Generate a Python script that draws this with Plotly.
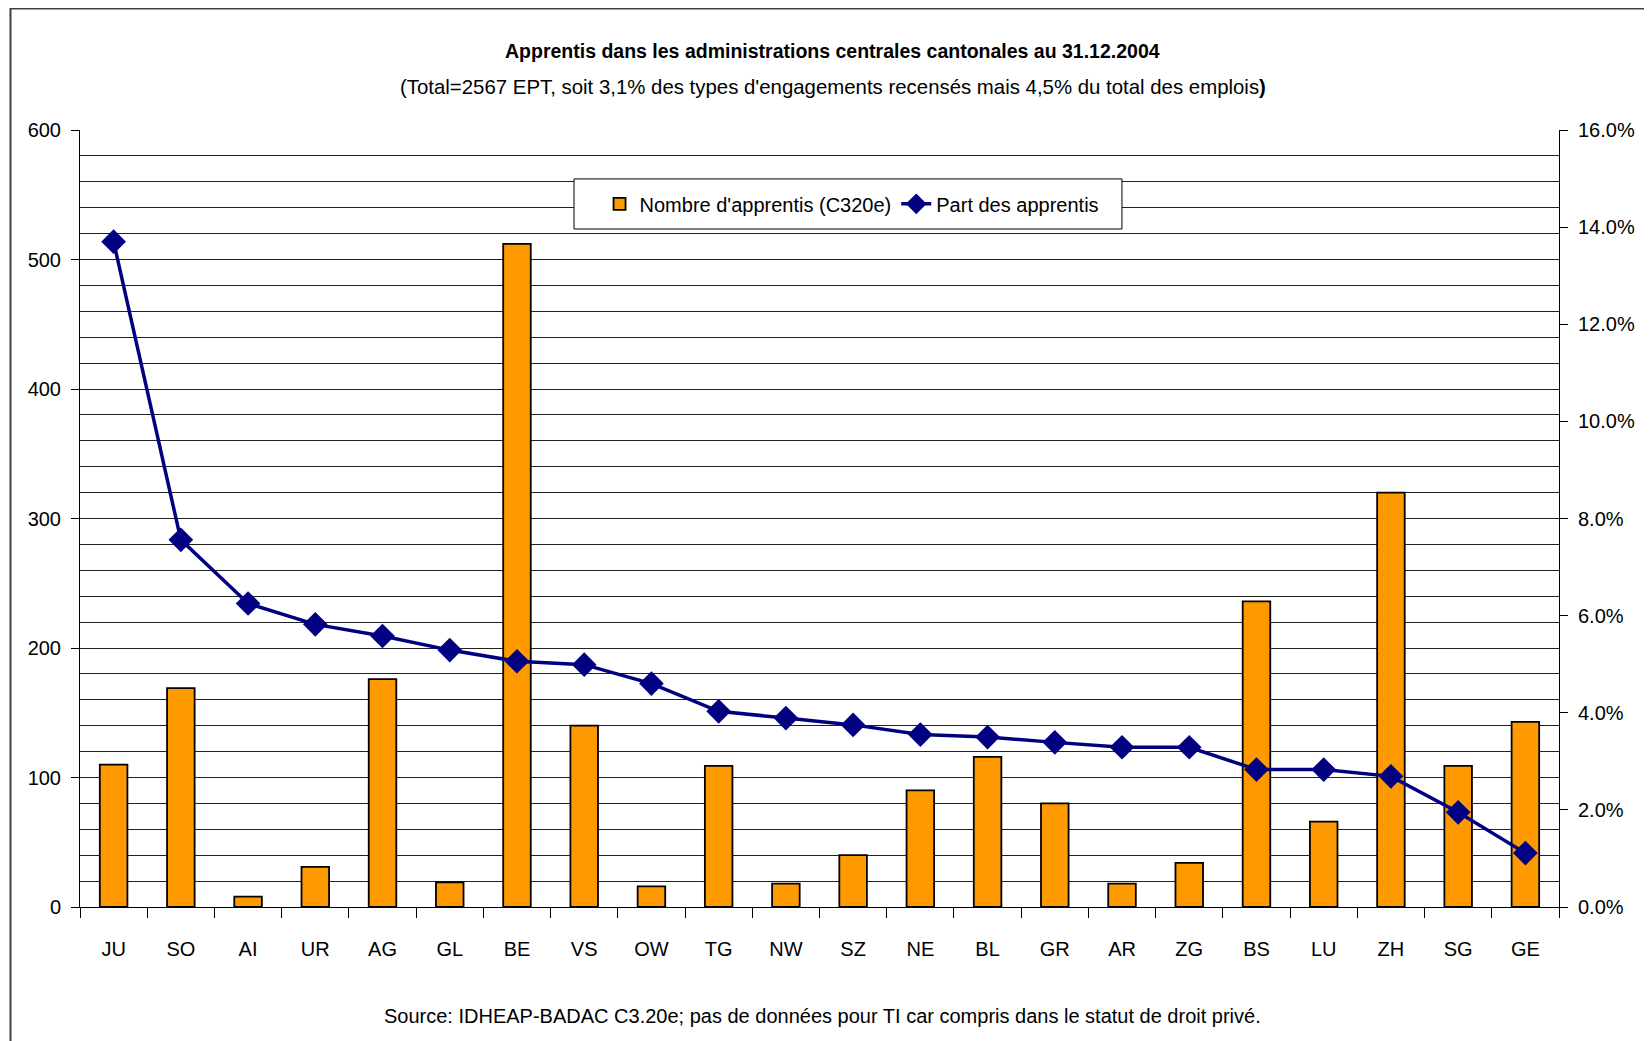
import plotly.graph_objects as go

cantons = ["JU", "SO", "AI", "UR", "AG", "GL", "BE", "VS", "OW", "TG", "NW",
           "SZ", "NE", "BL", "GR", "AR", "ZG", "BS", "LU", "ZH", "SG", "GE"]
apprentis = [110, 169, 8, 31, 176, 19, 512, 140, 16, 109, 18,
             40, 90, 116, 80, 18, 34, 236, 66, 320, 109, 143]
part_pct = [13.70, 7.56, 6.25, 5.82, 5.58, 5.29, 5.06, 4.99, 4.60, 4.03, 3.89,
            3.75, 3.55, 3.50, 3.39, 3.29, 3.29, 2.83, 2.83, 2.69, 1.95, 1.11]

FONT = "Liberation Sans Narrow, Arial Narrow, Liberation Sans, Arial, sans-serif"

fig = go.Figure()

fig.add_trace(go.Bar(
    x=cantons, y=apprentis,
    name="Nombre d'apprentis (C320e)",
    marker=dict(color="#FF9900", line=dict(color="#000000", width=1.8)),
))

fig.add_trace(go.Scatter(
    x=cantons, y=part_pct,
    name="Part des apprentis",
    yaxis="y2",
    mode="lines+markers",
    line=dict(color="#000080", width=3.5),
    marker=dict(symbol="diamond", size=19, color="#000080"),
))

fig.update_layout(
    width=1652, height=1041,
    margin=dict(l=72, r=101, t=122, b=142),
    paper_bgcolor="white", plot_bgcolor="white",
    font=dict(family=FONT, size=20, color="#000000"),
    bargap=0.59,
    showlegend=True,
    legend=dict(
        orientation="h", x=0.522, xanchor="center", y=0.905, yanchor="middle",
        bgcolor="rgba(0,0,0,0)", borderwidth=0,
        font=dict(size=20), tracegroupgap=0,
    ),
    xaxis=dict(
        range=[-0.5, 21.5],
        showline=True, linecolor="#000000", linewidth=1,
        ticks="outside", tickson="boundaries", ticklen=10, tickcolor="#000000",
        ticklabelstandoff=24,
        showgrid=False,
    ),
    yaxis=dict(
        range=[0, 600], dtick=100,
        showline=True, linecolor="#000000", linewidth=1,
        ticks="outside", ticklen=8, tickcolor="#000000",
        showgrid=True, gridcolor="#222222", gridwidth=1,
        minor=dict(dtick=20, showgrid=True, gridcolor="#222222", gridwidth=1),
        zeroline=False,
        ticklabelstandoff=6,
    ),
    yaxis2=dict(
        range=[0, 16], dtick=2, overlaying="y", side="right",
        tickformat=".1f", ticksuffix="%",
        showline=True, linecolor="#000000", linewidth=1,
        ticks="outside", ticklen=8, tickcolor="#000000",
        showgrid=False, zeroline=False,
        ticklabelstandoff=6,
    ),
)

fig.add_annotation(
    text="<b>Apprentis dans les administrations centrales cantonales au 31.12.2004</b>",
    xref="paper", yref="paper", x=0.509, y=1.102, showarrow=False,
    font=dict(size=19.5), xanchor="center", yanchor="middle",
)
fig.add_annotation(
    text="(Total=2567 EPT, soit 3,1% des types d'engagements recensés mais 4,5% du total des emplois<b>)</b>",
    xref="paper", yref="paper", x=0.509, y=1.055, showarrow=False,
    font=dict(size=20.4), xanchor="center", yanchor="middle",
)
fig.add_annotation(
    text="Source: IDHEAP-BADAC C3.20e; pas de données pour TI car compris dans le statut de droit privé.",
    xref="paper", yref="paper", x=0.502, y=-0.14, showarrow=False,
    font=dict(size=20), xanchor="center", yanchor="middle",
)

# legend box (white, covering the gridlines)
fig.add_shape(
    type="rect", xref="paper", yref="paper",
    x0=0.334, x1=0.7045, y0=0.8726, y1=0.937,
    line=dict(color="#000000", width=1), fillcolor="white",
    layer="above",
)

# outer chart frame (cropped on right and bottom in the original)
fig.add_shape(
    type="rect", xref="paper", yref="paper",
    x0=-0.047, x1=1.2, y0=-0.5, y1=1.1564,
    line=dict(color="#404040", width=2), fillcolor="rgba(0,0,0,0)",
    layer="below",
)

fig.write_html("out.html")
